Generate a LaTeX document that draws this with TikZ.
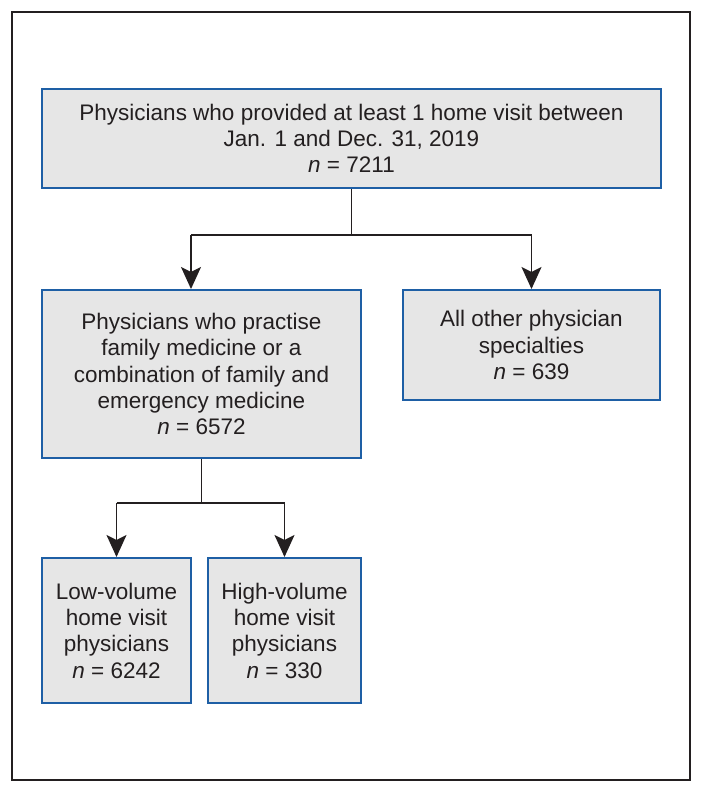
\documentclass[tikz,border=0pt]{standalone}
\usepackage{fontspec}
\setmainfont{Liberation Sans}
\usetikzlibrary{arrows.meta}
\definecolor{boxblue}{RGB}{30,95,165}
\definecolor{boxfill}{RGB}{230,230,230}
\definecolor{linegray}{RGB}{35,31,32}
\begin{document}
\begin{tikzpicture}[x=1pt,y=-1pt,
  box/.style={draw=boxblue,fill=boxfill,line width=2pt,align=center,
    font=\fontsize{22.5}{26.3}\selectfont,text=linegray,inner sep=0pt},
  conn/.style={draw=linegray,line width=1.5pt},
  arr/.style={conn,-{Stealth[length=22pt,width=20pt,inset=5pt]}}]
\useasboundingbox (0,0) rectangle (703,793);
\node[draw=linegray,line width=1.3pt,minimum width=678pt,minimum height=768pt,inner sep=0pt] (frame) at (351,396) {};
\node[box,minimum width=619pt,minimum height=99pt] (b1) at (351.5,138.5)
  {Physicians who provided at least 1 home visit between\\Jan. 1 and Dec. 31, 2019\\\textit{n} = 7211};
\node[box,minimum width=319pt,minimum height=168pt] (b2) at (201.5,374)
  {Physicians who practise\\family medicine or a\\combination of family and\\emergency medicine\\\textit{n} = 6572};
\node[box,minimum width=257pt,minimum height=110pt] (b3) at (531.5,345)
  {All other physician\\specialties\\\textit{n} = 639};
\node[box,minimum width=149pt,minimum height=145pt] (b4) at (116.5,630.5)
  {Low-volume\\home visit\\physicians\\\textit{n} = 6242};
\node[box,minimum width=153pt,minimum height=145pt] (b5) at (284.5,630.5)
  {High-volume\\home visit\\physicians\\\textit{n} = 330};
\coordinate (j1) at (351.5,235);
\coordinate (ja) at (191,235);
\coordinate (jb) at (531.5,235);
\coordinate (j2) at (201.5,503);
\coordinate (jc) at (116.5,503);
\coordinate (jd) at (284.5,503);
\draw[conn] (b1.south) -- (j1);
\draw[conn] (ja) -- (jb);
\draw[arr] (ja) -- (ja |- b2.north);
\draw[arr] (jb) -- (b3.north);
\draw[conn] (b2.south) -- (j2);
\draw[conn] (jc) -- (jd);
\draw[arr] (jc) -- (b4.north);
\draw[arr] (jd) -- (b5.north);
\end{tikzpicture}
\end{document}
